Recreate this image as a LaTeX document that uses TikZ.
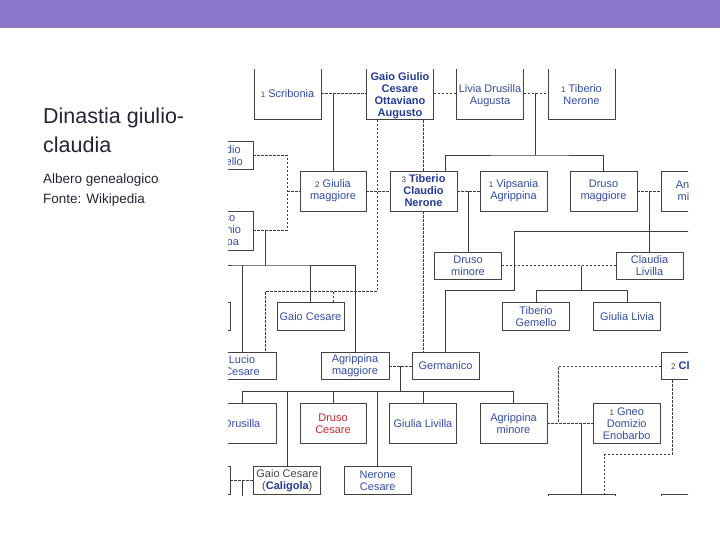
\documentclass[tikz,border=0pt]{standalone}
\usepackage{fontspec}
\setmainfont{Liberation Sans}
\usepackage{tikz}
\usetikzlibrary{calc}
\usetikzlibrary{positioning}
\definecolor{headpurple}{RGB}{139,118,206}
\definecolor{headline}{RGB}{150,126,176}
\definecolor{titlegray}{RGB}{36,36,52}
\definecolor{boxgray}{RGB}{66,66,66}
\definecolor{linegray}{RGB}{60,60,60}
\definecolor{nameblue}{RGB}{52,76,166}
\definecolor{boldblue}{RGB}{36,60,152}
\definecolor{namered}{RGB}{205,40,45}
\definecolor{numgray}{RGB}{70,70,70}
\newcommand{\ordn}[1]{{\mdseries\fontsize{8}{12}\selectfont\color{numgray}#1}}
\newcommand{\topgap}[1]{\rule{0pt}{#1}}

\begin{document}
\begin{tikzpicture}[x=1pt,y=-1pt,
  persona/.style={draw=boxgray, line width=0.95pt, fill=white, inner sep=0pt,
    minimum width=67pt, minimum height=27.5pt, align=center, text=nameblue,
    font=\fontsize{11}{12}\selectfont},
  alta/.style={minimum height=40pt},
  imper/.style={text=boldblue, font=\fontsize{11}{12}\selectfont\bfseries},
  desc/.style={draw=linegray, line width=0.95pt},
  marr/.style={draw=linegray, line width=0.95pt, dash pattern=on 2.5pt off 1.5pt}]

\useasboundingbox (0,0) rectangle (720,540);

% Intestazione
\fill[headpurple] (0,0) rectangle (720,27);
\fill[headline] (0,27) rectangle (720,28.5);

\node[anchor=base west, text=titlegray, font=\fontsize{21.5}{29}\selectfont, inner sep=0pt] (tit1) at (43,123.3) {Dinastia giulio-};
\node[anchor=base west, text=titlegray, font=\fontsize{21.5}{29}\selectfont, inner sep=0pt] (tit2) at (43,152.3) {claudia};
\node[anchor=base west, text=titlegray, font=\fontsize{13.5}{20}\selectfont, inner sep=0pt] (sub1) at (43,184) {Albero genealogico};
\node[anchor=base west, text=titlegray, font=\fontsize{13.5}{20}\selectfont, inner sep=0pt] (sub2) at (43,204) {Fonte: Wikipedia};

\begin{scope}
\clip (228,70) rectangle (688,495.5);

% Prima generazione
\node[persona, minimum height=52pt] (scrib) at (287.5,93) {\topgap{10pt}\ordn{1} Scribonia};
\node[persona, imper, minimum height=52pt] (aug) at (400,93) {\topgap{14pt}Gaio Giulio\\Cesare\\Ottaviano\\Augusto};
\node[persona, minimum height=52pt] (livia) at (490,93) {\topgap{14pt}Livia Drusilla\\Augusta};
\node[persona, minimum height=52pt] (tibner) at (581.5,93) {\topgap{12pt}\ordn{1} Tiberio\\Nerone};

% Seconda generazione
\node[persona, minimum width=62pt] (marcello) at (222,155.5) {Claudio\\Marcello};
\node[persona, minimum height=39pt] (agrippa) at (220,230.5) {Marco\\Vipsanio\\Agrippa};
\node[persona, alta, minimum width=66pt] (giulia) at (333,191) {\ordn{2} Giulia\\maggiore};
\node[persona, alta, imper] (tibcl) at (423.5,191) {\ordn{3} Tiberio\\Claudio\\Nerone};
\node[persona, alta] (vips) at (513.5,191) {\ordn{1} Vipsania\\Agrippina};
\node[persona, alta] (drumag) at (603.5,191) {Druso\\maggiore};
\node[persona, alta] (antonia) at (694.5,191) {Antonia\\minore};

% Terza generazione
\node[persona, minimum height=27pt] (drumin) at (468,265.5) {Druso\\minore};
\node[persona, minimum height=27pt] (livilla) at (649.5,265.5) {Claudia\\Livilla};
\node[persona] (juliamin) at (197,316.3) {};
\node[persona] (gaiocs) at (310.5,316.3) {Gaio Cesare};
\node[persona] (tibgem) at (536,316.3) {Tiberio\\Gemello};
\node[persona] (giulialivia) at (627,316.3) {Giulia Livia};
\node[persona, minimum width=68pt] (lucio) at (242,366) {Lucio\\Cesare};
\node[persona, minimum width=68pt] (agrmag) at (355,366) {Agrippina\\maggiore};
\node[persona] (germ) at (445.5,366) {Germanico};
\node[persona] (claudio) at (695,366) {\ordn{2} \textcolor{boldblue}{\bfseries Claudio}};

% Quarta generazione
\node[persona, alta, minimum width=68pt] (drusilla) at (242,423.3) {Drusilla};
\node[persona, alta, minimum width=66pt, text=namered] (drces) at (333,423.3) {Druso\\Cesare};
\node[persona, alta] (giulivilla) at (423,423.3) {Giulia Livilla};
\node[persona, alta] (agrmin) at (513.5,423.3) {Agrippina\\minore};
\node[persona, alta] (gneo) at (626.7,423.3) {\ordn{1} Gneo\\Domizio\\Enobarbo};
\node[persona] (milonia) at (196.5,480.3) {};
\node[persona] (caligola) at (287.3,480.3) {\textcolor{numgray}{Gaio Cesare}\\\textcolor{numgray}{(}\textcolor{boldblue}{\bfseries Caligola}\textcolor{numgray}{)}};
\node[persona] (neroces) at (377.7,480.3) {Nerone\\Cesare};
\node[persona, alta] (nerone) at (581.5,514) {};
\node[persona, alta] (britannico) at (695,514) {};

% Punti di giunzione
\coordinate (jLT) at ($(livia.east)!.5!(tibner.west)+(0,62)$);
\coordinate (jG) at ($(giulia.west)+(-12.5,0)$);
\coordinate (jAG) at ($(agrippa.east)+(11.2,34.5)$);
\coordinate (gB) at (514,290.7);
\coordinate (cla) at (700,231);
\coordinate (jDL) at ($(tibgem.north)!.5!(giulialivia.north)+(0,-12)$);
\coordinate (jAM) at ($(agrmag.east)!.5!(germ.west)+(0,25.7)$);
\coordinate (jAC) at ($(agrmin.east)+(11,0)$);
\coordinate (giudru) at (242,500);

% Matrimoni
\draw[marr] (scrib) -- (aug);
\draw[marr] (aug) -- (livia);
\draw[marr] (livia) -- (tibner);
\draw[marr] (marcello.east) -| (jG) |- (agrippa.east);
\draw[marr] (jG) -- (giulia.west);
\draw[marr] (giulia) -- (tibcl);
\draw[marr] (tibcl) -- (vips);
\draw[marr] (drumag) -- (antonia);
\draw[marr] (drumin) -- (livilla);
\draw[marr] (agrmag) -- (germ);
\draw[marr] (agrmin) -- (gneo);
\draw[marr] (claudio.west) -| (jAC);
\draw[marr] (milonia) -- (caligola);

% Adozioni
\draw[marr] (aug.south west) ++(11,0) -- ++(0,171.7) -| ($(lucio.north east)+(-11,0)$);
\draw[marr] (gaiocs.north east) ++(-11,0) -- ++(0,-12);
\draw[marr] (tibcl.north) -- (tibcl.north |- aug.south);
\draw[marr] (tibcl.south) -- (tibcl.south |- germ.north);
\draw[marr] ($(claudio.south west)+(11,0)$) |- ($(nerone.north east)+(-11,-39)$) -- ($(nerone.north east)+(-11,0)$);

% Discendenza
\draw[desc] (giulia.north) -- (giulia.north |- scrib.east);
\draw[desc] (jLT |- livia.east) -- (jLT);
\draw[desc] ($(tibcl.north east)+(-12,0)$) |- (jLT) -| (drumag.north);
\draw[desc] (drumin.north) -- (drumin.north |- vips.west);
\draw[desc] (livilla.north) -- (livilla.north |- antonia.west);
\draw[desc] (germ.north) |- (gB) |- (cla);
\draw[desc] (jDL |- drumin.east) -- (jDL);
\draw[desc] (tibgem.north) |- (jDL) -| (giulialivia.north);
\draw[desc] (jAG |- agrippa.east) -- (jAG);
\draw[desc] (juliamin.north) |- (jAG) -| (agrmag.north);
\draw[desc] (lucio.north) -- (lucio.north |- jAG);
\draw[desc] (gaiocs.north) -- (gaiocs.north |- jAG);
\draw[desc] (jAM |- germ.west) -- (jAM);
\draw[desc] (drusilla.north) |- (jAM) -| (agrmin.north);
\foreach \f in {caligola,drces,neroces,giulivilla}
  \draw[desc] (\f.north) -- (\f.north |- jAM);
\draw[desc] (nerone.north) -- (nerone.north |- gneo.west);
\draw[desc] (giudru) -- (giudru |- caligola.west);

\end{scope}

\end{tikzpicture}
\end{document}
